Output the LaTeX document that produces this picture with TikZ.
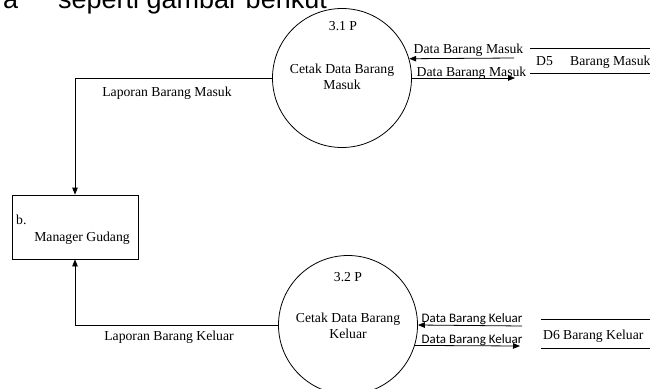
\documentclass[tikz,border=0pt]{standalone}
\usepackage{fontspec}
\setmainfont{Liberation Serif}
\newfontfamily\headsans{Liberation Sans}
\newfontfamily\flowsans{Carlito}
\usetikzlibrary{arrows.meta}
\begin{document}
\begin{tikzpicture}[x=1pt,y=-1pt,
  every node/.style={inner sep=0pt, font=\fontsize{13.7}{17}\selectfont},
  txt/.style={anchor=base},
  proc/.style={circle, draw, line width=0.8pt, minimum size=139pt},
  extent/.style={draw, line width=0.8pt, minimum width=126pt, minimum height=64pt},
  store/.style={minimum width=130pt, minimum height=25pt, anchor=west},
  rule/.style={line width=0.8pt},
  flow/.style={line width=0.8pt, -{Triangle[length=7pt,width=5.5pt]}},
  flowlbl/.style={anchor=base, font=\flowsans\fontsize{13}{15}\selectfont},
  headtxt/.style={anchor=base west, font=\headsans\fontsize{27}{30}\selectfont},
]
\useasboundingbox (0,0) rectangle (650,388);
\clip (0,0) rectangle (650,388);

% running text of the page above the figure
\node[headtxt] (h1) at (3,9) {a};
\node[headtxt] (h2) at (58,9) {seperti gambar berikut};

% processes
\node[proc] (p31) at (342,78) {};
\node[txt] (p31id) at (343,30) {3.1 P};
\node[txt] (p31a) at (342,73) {Cetak Data Barang};
\node[txt] (p31b) at (342,89) {Masuk};

\node[proc] (p32) at (348,325) {};
\node[txt] (p32id) at (348,281) {3.2 P};
\node[txt] (p32a) at (348,322) {Cetak Data Barang};
\node[txt] (p32b) at (348,338) {Keluar};

% external entity
\node[extent] (mg) at (75,227) {};
\node[anchor=base west] (mgid) at (16,224) {b.};
\node[txt] (mgname) at (82,241.5) {Manager Gudang};

% data stores
\node[store] (d5) at (530,61) {};
\draw[rule] (d5.north west) -- (d5.north east);
\draw[rule] (d5.south west) -- (d5.south east);
\node[anchor=base west] (d5id) at (536,65.5) {D5};
\node[anchor=base west] (d5name) at (570,65.5) {Barang Masuk};

\node[store, minimum height=28pt] (d6) at (541,334) {};
\draw[rule] (d6.north west) -- (d6.north east);
\draw[rule] (d6.south west) -- (d6.south east);
\node[anchor=base west] (d6id) at (543,339) {D6};
\node[anchor=base west] (d6name) at (563,339) {Barang Keluar};

% reports to the manager
\draw[flow] (p31.west) -| (mg.north);
\node[txt] (lapm) at (167,96) {Laporan Barang Masuk};
\draw[flow] (p32.west) -| (mg.south);
\node[txt] (lapk) at (169,340) {Laporan Barang Keluar};

% flows between processes and stores
\coordinate (d5out) at (514,58);
\coordinate (d5in) at (515,78);
\draw[flow] (d5out) -- (p31.16.6);
\draw[flow] (p31.east) -- (d5in);
\node[txt] (fm1) at (468.5,53) {Data Barang Masuk};
\node[txt] (fm2) at (471.5,76.5) {Data Barang Masuk};

\coordinate (d6out) at (522,326);
\coordinate (d6in) at (520,346);
\draw[flow] (d6out) -- (p32.-0.8);
\draw[flow] (p32.-17.6) -- (d6in);
\node[flowlbl] (fk1) at (472,322) {Data Barang Keluar};
\node[flowlbl] (fk2) at (472,343.5) {Data Barang Keluar};
\end{tikzpicture}
\end{document}
